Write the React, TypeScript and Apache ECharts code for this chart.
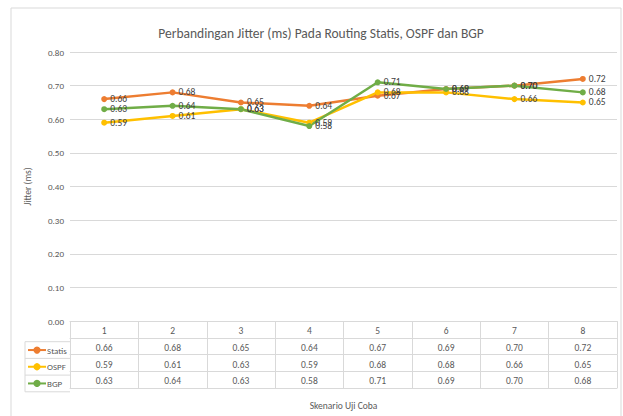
import React, { useEffect, useRef } from "react";
import * as echarts from "echarts";

const categories = ["1", "2", "3", "4", "5", "6", "7", "8"];
const statis = [0.66, 0.68, 0.65, 0.64, 0.67, 0.69, 0.7, 0.72];
const ospf = [0.59, 0.61, 0.63, 0.59, 0.68, 0.68, 0.66, 0.65];
const bgp = [0.63, 0.64, 0.63, 0.58, 0.71, 0.69, 0.7, 0.68];
const seriesNames = ["Statis", "OSPF", "BGP"];
const seriesColors = ["#ED7D31", "#FFC000", "#70AD47"];
const seriesValues = [statis, ospf, bgp];
const titleText = "Perbandingan Jitter (ms) Pada Routing Statis, OSPF dan BGP";
const yAxisTitle = "Jitter (ms)";
const xAxisTitle = "Skenario Uji Coba";

const FONT = 'Carlito, "Liberation Sans Narrow", "Open Sans", sans-serif';
const GRID_LEFT = 70;
const GRID_RIGHT_X = 617;
const GRID_TOP = 52;
const GRID_BOTTOM_Y = 325;
const ROW_H = 16.7;
const LINE_C = "#d9d9d9";
const TEXT_C = "#595959";

export default function App() {
  const ref = useRef<HTMLDivElement>(null);
  useEffect(() => {
    if (!ref.current) return;
    const chart = echarts.init(ref.current, undefined, { renderer: "svg" });

    const labelBase = { show: true, interval: 0, margin: 5, fontSize: 9.5, color: TEXT_C, fontFamily: FONT };
    const tableAxes: any[] = [];
    tableAxes.push({
      type: "category",
      data: categories,
      position: "bottom",
      offset: 0,
      boundaryGap: true,
      axisLine: { show: true, lineStyle: { color: LINE_C, width: 1 } },
      axisTick: { show: true, interval: 0, length: ROW_H, lineStyle: { color: LINE_C } },
      axisLabel: { ...labelBase },
      splitLine: { show: false },
    });
    seriesValues.forEach((vals, k) => {
      tableAxes.push({
        type: "category",
        data: categories,
        position: "bottom",
        offset: ROW_H * (k + 1),
        boundaryGap: true,
        axisLine: { show: true, lineStyle: { color: LINE_C, width: 1 } },
        axisTick: { show: true, interval: 0, length: ROW_H, lineStyle: { color: LINE_C } },
        axisLabel: {
          ...labelBase,
          formatter: (_v: string, i: number) => vals[i].toFixed(2),
        },
        splitLine: { show: false },
      });
    });
    tableAxes.push({
      type: "category",
      data: categories,
      position: "bottom",
      offset: ROW_H * 4,
      boundaryGap: true,
      axisLine: { show: true, lineStyle: { color: LINE_C, width: 1 } },
      axisTick: { show: false },
      axisLabel: { show: false },
      splitLine: { show: false },
      name: xAxisTitle,
      nameLocation: "middle",
      nameGap: 13,
      nameTextStyle: { fontSize: 9.5, color: TEXT_C, fontFamily: FONT },
    });

    const legendTop = GRID_BOTTOM_Y + ROW_H;
    const graphicEls: any[] = [
      {
        type: "rect",
        shape: { x: 11, y: 8, width: 610, height: 420 },
        style: { fill: "none", stroke: LINE_C, lineWidth: 1 },
        silent: true,
      },
      {
        type: "polyline",
        shape: {
          points: [
            [GRID_LEFT, legendTop],
            [25, legendTop],
            [25, legendTop + ROW_H * 3],
            [GRID_LEFT, legendTop + ROW_H * 3],
          ],
        },
        style: { fill: "none", stroke: LINE_C, lineWidth: 1 },
        silent: true,
      },
      {
        type: "line",
        shape: { x1: 25, y1: legendTop + ROW_H, x2: GRID_LEFT, y2: legendTop + ROW_H },
        style: { stroke: LINE_C, lineWidth: 1 },
        silent: true,
      },
      {
        type: "line",
        shape: { x1: 25, y1: legendTop + ROW_H * 2, x2: GRID_LEFT, y2: legendTop + ROW_H * 2 },
        style: { stroke: LINE_C, lineWidth: 1 },
        silent: true,
      },
    ];

    const legends = seriesNames.map((name, k) => ({
      orient: "horizontal",
      left: 27,
      top: legendTop + ROW_H * k + (ROW_H - 11) / 2,
      padding: 0,
      itemWidth: 18,
      itemHeight: 9,
      data: [name],
      textStyle: { fontSize: 9, color: TEXT_C, fontFamily: FONT, padding: [0, 0, 0, -4], lineHeight: 11 },
    }));

    chart.setOption({
      animation: false,
      backgroundColor: "#ffffff",
      title: {
        text: titleText,
        left: 316,
        textAlign: "center",
        top: 21,
        textStyle: { fontSize: 13.5, fontWeight: "normal", color: TEXT_C, fontFamily: FONT },
      },
      legend: legends,
      grid: {
        left: GRID_LEFT,
        right: 623 - GRID_RIGHT_X,
        top: GRID_TOP,
        bottom: 416 - GRID_BOTTOM_Y,
        containLabel: false,
      },
      xAxis: tableAxes,
      yAxis: {
        type: "value",
        min: 0,
        max: 0.8,
        interval: 0.1,
        name: yAxisTitle,
        nameLocation: "middle",
        nameRotate: 90,
        nameGap: 37,
        nameTextStyle: { fontSize: 9.5, color: TEXT_C, fontFamily: FONT },
        axisLine: { show: false },
        axisTick: { show: false },
        axisLabel: {
          fontSize: 9,
          color: TEXT_C,
          fontFamily: FONT,
          margin: 6,
          formatter: (v: number) => v.toFixed(2),
        },
        splitLine: { show: true, lineStyle: { color: LINE_C, width: 1 } },
      },
      graphic: graphicEls,
      series: seriesNames.map((name, k) => ({
        name,
        type: "line",
        xAxisIndex: 0,
        data: seriesValues[k],
        color: seriesColors[k],
        symbol: "circle",
        symbolSize: 6,
        lineStyle: { width: 2.5, color: seriesColors[k] },
        itemStyle: { color: seriesColors[k] },
        label: {
          show: true,
          position: "right",
          distance: 3,
          fontSize: 9.5,
          color: "#404040",
          fontFamily: FONT,
          formatter: (p: any) => Number(p.value).toFixed(2),
        },
      })),
    });
    return () => chart.dispose();
  }, []);
  return (
    <div
      ref={ref}
      style={{ position: "absolute", left: 0, top: 0, width: 623, height: 416 }}
    />
  );
}
